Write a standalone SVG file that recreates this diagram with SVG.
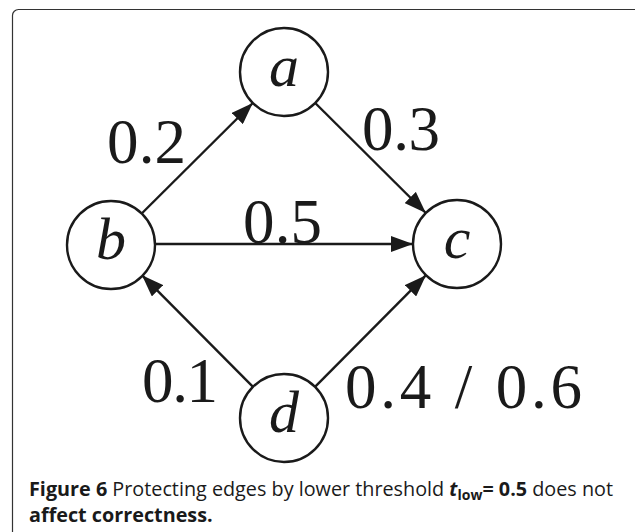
<svg xmlns="http://www.w3.org/2000/svg" width="635" height="532" viewBox="0 0 635 532">
<style>
.node circle{fill:#fff;stroke:#1a1a1a;stroke-width:2.4}
.node text{font-family:"Liberation Serif",serif;font-style:italic;font-size:60px;fill:#1a1a1a;text-anchor:middle}
.edge{stroke:#1a1a1a;stroke-width:2.4;fill:none;marker-end:url(#ah)}
.lbl{font-family:"Liberation Serif",serif;font-size:63px;fill:#1a1a1a}
.cap{font-family:"Open Sans",sans-serif;font-size:19.8px;fill:#1a1a1a}
</style>
<defs>
<marker id="ah" markerUnits="userSpaceOnUse" markerWidth="22" markerHeight="16" refX="22" refY="8" orient="auto">
<path d="M0,0 L22,8 L0,16 z" fill="#1a1a1a"/>
</marker>
</defs>
<rect x="12.5" y="9.5" width="640" height="560" rx="6" fill="#fff" stroke="#333" stroke-width="1.2"/>
<g id="connectors">
<line class="edge" x1="142.2" y1="213" x2="252.8" y2="103"/>
<line class="edge" x1="315.2" y1="103" x2="425.8" y2="213"/>
<line class="edge" x1="155" y1="244" x2="413" y2="244"/>
<line class="edge" x1="253" y1="386.8" x2="142" y2="275.2"/>
<line class="edge" x1="315" y1="386.8" x2="426" y2="275.2"/>
</g>
<g id="labels">
<text class="lbl" x="107" y="163" textLength="79">0.2</text>
<text class="lbl" x="362" y="150" textLength="78">0.3</text>
<text class="lbl" x="243" y="243" textLength="79">0.5</text>
<text class="lbl" x="142" y="402" textLength="76">0.1</text>
<text class="lbl" x="345" y="408" textLength="237" lengthAdjust="spacing">0.4 / 0.6</text>
</g>
<g id="node-a" class="node"><circle cx="284" cy="72" r="44"/><text x="284" y="86">a</text></g>
<g id="node-b" class="node"><circle cx="111" cy="245" r="44"/><text x="111" y="259">b</text></g>
<g id="node-c" class="node"><circle cx="457" cy="244" r="44"/><text x="457" y="258">c</text></g>
<g id="node-d" class="node"><circle cx="284" cy="418" r="44"/><text x="284" y="432">d</text></g>
<g id="caption">
<text class="cap" x="29" y="496"><tspan font-weight="bold">Figure 6</tspan> Protecting edges by lower threshold <tspan font-weight="bold" font-style="italic">t</tspan><tspan font-weight="bold" font-size="14" dy="4">low</tspan><tspan font-weight="bold" dy="-4">= 0.5</tspan> does not</text>
<text class="cap" x="29" y="522" font-weight="bold">affect correctness.</text>
</g>
</svg>
